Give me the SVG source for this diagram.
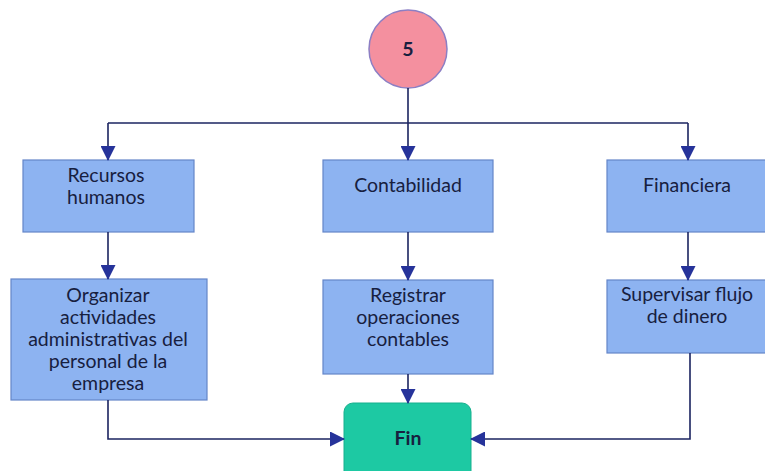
<svg xmlns="http://www.w3.org/2000/svg" width="765" height="471" viewBox="0 0 765 471">
<defs>
<marker id="ah" markerWidth="15" markerHeight="15" refX="14" refY="7.5" orient="auto" markerUnits="userSpaceOnUse">
<path d="M0,0 L15,7.5 L0,15 Z" fill="#26339A"/>
</marker>
<style>
.box{fill:#8DB3F1;stroke:#6485C9;stroke-width:1.2}
.t{font-family:Lato,"Liberation Sans",sans-serif;font-size:19.5px;fill:#17203F;text-anchor:middle}
.c{fill:none;stroke:#1B2460;stroke-width:1.6}
</style>
</defs>
<rect width="765" height="471" fill="#ffffff"/>
<g id="start">
<circle cx="408" cy="49" r="39" fill="#F4909F" stroke="#8C7FC4" stroke-width="1.5"/>
<text class="t" x="408" y="56" style="font-weight:bold">5</text>
</g>
<g id="n_rh">
<rect class="box" x="23" y="160" width="171" height="72"/>
<text class="t" x="106" y="182">Recursos</text>
<text class="t" x="106" y="204">humanos</text>
</g>
<g id="n_cont">
<rect class="box" x="323" y="160" width="170" height="72"/>
<text class="t" x="408" y="192">Contabilidad</text>
</g>
<g id="n_fin_area">
<rect class="box" x="607" y="160" width="162" height="72"/>
<text class="t" x="687" y="192">Financiera</text>
</g>
<g id="n_org">
<rect class="box" x="11" y="279" width="196" height="121"/>
<text class="t" x="108" y="302">Organizar</text>
<text class="t" x="108" y="324">actividades</text>
<text class="t" x="108" y="346">administrativas del</text>
<text class="t" x="108" y="368">personal de la</text>
<text class="t" x="108" y="390">empresa</text>
</g>
<g id="n_reg">
<rect class="box" x="323" y="280" width="170" height="94"/>
<text class="t" x="408" y="302">Registrar</text>
<text class="t" x="408" y="324">operaciones</text>
<text class="t" x="408" y="346">contables</text>
</g>
<g id="n_sup">
<rect class="box" x="607" y="280" width="162" height="73"/>
<text class="t" x="687" y="301">Supervisar flujo</text>
<text class="t" x="687" y="323">de dinero</text>
</g>
<g id="end">
<rect x="344" y="403" width="127" height="80" rx="9" fill="#1DC9A3" stroke="#17B08E" stroke-width="1"/>
<text class="t" x="408" y="445" style="font-weight:bold">Fin</text>
</g>
<g id="connectors">
<path class="c" d="M408,88 V123"/>
<path class="c" d="M108,123 H688"/>
<path class="c" d="M108,123 V160" marker-end="url(#ah)"/>
<path class="c" d="M408,123 V160" marker-end="url(#ah)"/>
<path class="c" d="M688,123 V160" marker-end="url(#ah)"/>
<path class="c" d="M108,232 V279" marker-end="url(#ah)"/>
<path class="c" d="M408,232 V280" marker-end="url(#ah)"/>
<path class="c" d="M688,232 V280" marker-end="url(#ah)"/>
<path class="c" d="M408,374 V403" marker-end="url(#ah)"/>
<path class="c" d="M108,400 V439 H344" marker-end="url(#ah)"/>
<path class="c" d="M690,353 V439 H471" marker-end="url(#ah)"/>
</g>
</svg>
